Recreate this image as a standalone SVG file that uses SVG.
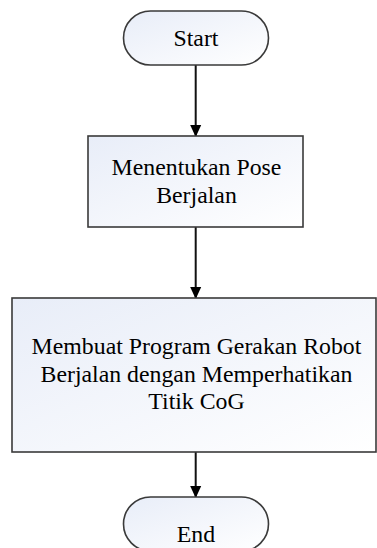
<svg xmlns="http://www.w3.org/2000/svg" width="377" height="548" viewBox="0 0 377 548">
<defs>
<linearGradient id="fillGrad" x1="0" y1="0" x2="1" y2="1">
<stop offset="0" stop-color="#e8edf8"/>
<stop offset="1" stop-color="#ffffff"/>
</linearGradient>
<marker id="arrow" markerWidth="12" markerHeight="13" refX="12" refY="6" orient="auto" markerUnits="userSpaceOnUse" viewBox="0 0 13 12">
<path d="M0,0 L13,6 L0,12 Z" fill="#000"/>
</marker>
<style>
.shape { fill: url(#fillGrad); stroke: #3a3a3a; stroke-width: 1.6; }
.lbl { font-family: "Liberation Serif", "Times New Roman", serif; font-size: 23.8px; fill: #000; text-anchor: middle; }
.conn { stroke: #111; stroke-width: 2; fill: none; marker-end: url(#arrow); }
</style>
</defs>
<rect width="377" height="548" fill="#fff"/>
<g id="connectors">
<line class="conn" x1="195.7" y1="65" x2="195.7" y2="136"/>
<line class="conn" x1="195.7" y1="227" x2="195.7" y2="298"/>
<line class="conn" x1="195.7" y1="452" x2="195.7" y2="497"/>
</g>
<g id="start">
<rect class="shape" x="123.5" y="11" width="145" height="54" rx="27" ry="27"/>
<text class="lbl" x="196" y="46">Start</text>
</g>
<g id="pose">
<rect class="shape" x="88" y="136" width="215" height="91"/>
<text class="lbl" x="196.5" y="175">Menentukan Pose</text>
<text class="lbl" x="196.5" y="203">Berjalan</text>
</g>
<g id="program">
<rect class="shape" x="12" y="298" width="364" height="154"/>
<text class="lbl" x="196.5" y="354">Membuat Program Gerakan Robot</text>
<text class="lbl" x="196.5" y="382">Berjalan dengan Memperhatikan</text>
<text class="lbl" x="196.5" y="409">Titik CoG</text>
</g>
<g id="end">
<rect class="shape" x="123.5" y="497" width="145" height="54" rx="27" ry="27"/>
<text class="lbl" x="196" y="542">End</text>
</g>
</svg>
